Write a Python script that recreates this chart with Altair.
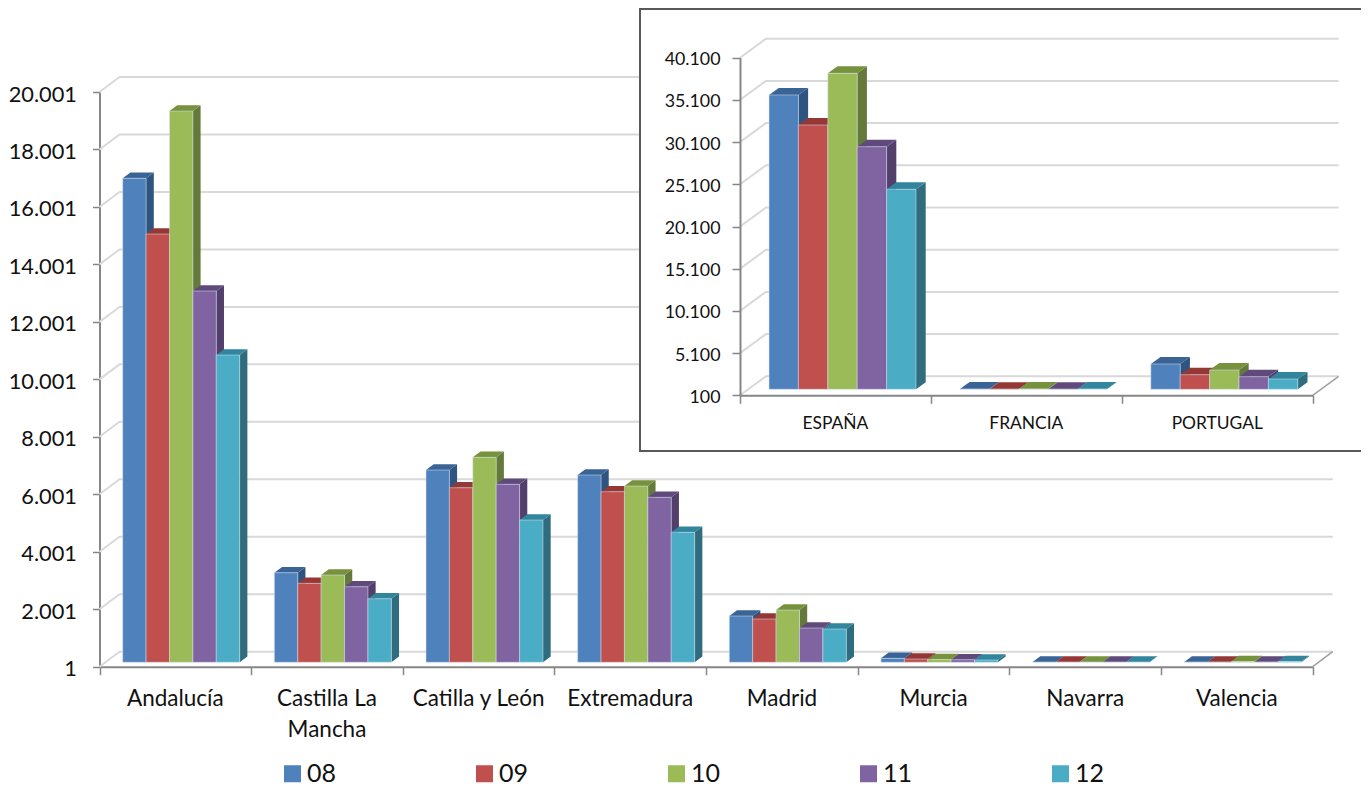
import altair as alt
import pandas as pd

series = ["08", "09", "10", "11", "12"]
front_colors = ["#4F81BD", "#C0504D", "#9BBB59", "#8064A2", "#4BACC6"]
top_colors = ["#3A6396", "#953735", "#76923C", "#604A7B", "#31859C"]
side_colors = ["#2F5480", "#7E2F2D", "#64793A", "#533F6C", "#2F6C7D"]

regions = ["Andalucía", "Castilla La\nMancha", "Catilla y León", "Extremadura",
           "Madrid", "Murcia", "Navarra", "Valencia"]
region_08 = [16844, 3118, 6692, 6518, 1611, 139, 8, 10]
region_09 = [14905, 2749, 6076, 5937, 1507, 115, 8, 12]
region_10 = [19185, 3038, 7134, 6135, 1820, 100, 8, 25]
region_11 = [12922, 2631, 6195, 5742, 1194, 90, 8, 12]
region_12 = [10695, 2213, 4952, 4524, 1159, 80, 8, 30]
region_ticks = [1, 2001, 4001, 6001, 8001, 10001, 12001, 14001, 16001, 18001, 20001]

countries = ["ESPAÑA", "FRANCIA", "PORTUGAL"]
country_08 = [34970, 130, 3098]
country_09 = [31415, 120, 1830]
country_10 = [37540, 150, 2387]
country_11 = [28844, 110, 1593]
country_12 = [23797, 130, 1320]
country_ticks = [100, 5100, 10100, 15100, 20100, 25100, 30100, 35100, 40100]

H = 778
W = 1353
FONT = "Lato"
LABEL_EXPR = "replace(format(datum.value, ','), ',', '.')"


def panel(cats, columns, ticks, xr, yr, lift, bar_off, bar_w, side_dx, side_dy,
          wall_dx, wall_dy, tick_size, label_pad, label_size, cat_size, cat_y, z, legend):
    n = len(cats)
    lo, hi = ticks[0], ticks[-1]
    xs = alt.Scale(domain=[0, n], range=xr, nice=False, zero=False)
    ys = alt.Scale(domain=[lo, hi], range=yr, nice=False, zero=False)
    no_x = lambda f: alt.X(f, type="quantitative", scale=xs, axis=None)
    no_y = lambda f: alt.Y(f, type="quantitative", scale=ys, axis=None)

    grid, floor_edge = [], []
    for t in ticks:
        grid += [dict(t=t, x=0, y=t, o=0),
                 dict(t=t, x=wall_dx, y=t + wall_dy, o=1),
                 dict(t=t, x=n + wall_dx, y=t + wall_dy, o=2)]
    floor_edge = [dict(x=n, y=lo, o=0), dict(x=n + wall_dx, y=lo + wall_dy, o=1)]

    side, top, front = [], [], []
    base = lo + lift
    for si, (s, vals) in enumerate(zip(series, columns)):
        for ci, v in enumerate(vals):
            x0 = ci + bar_off + si * bar_w
            x1 = x0 + bar_w
            y1 = v + lift
            key = f"{s}-{ci}"
            front.append(dict(s=s, x0=x0, x1=x1, y0=base, y1=y1))
            top += [dict(s=s, k=key, y=y1, x0=x0, x1=x1),
                    dict(s=s, k=key, y=y1 + side_dy, x0=x0 + side_dx, x1=x1 + side_dx)]
            side += [dict(s=s, k=key, x=x1, y0=base, y1=y1),
                     dict(s=s, k=key, x=x1 + side_dx, y0=base + side_dy, y1=y1 + side_dy)]

    def color(rng, leg=None):
        args = dict(scale=alt.Scale(domain=series, range=rng))
        args["legend"] = leg
        return alt.Color("s:N", **args)

    x_axis = alt.Axis(values=list(range(n + 1)), labels=False, title=None, grid=False,
                      orient="bottom", offset=-(H - yr[0]), tickSize=8, tickWidth=1.5,
                      tickColor="#868686", domainColor="#868686", domainWidth=2, zindex=z)
    y_axis = alt.Axis(values=ticks, labelExpr=LABEL_EXPR, title=None, grid=False,
                      orient="left", offset=-xr[0], tickSize=tick_size, tickWidth=1.5,
                      tickColor="#868686", domainColor="#868686", domainWidth=2,
                      labelPadding=label_pad, labelFont=FONT, labelFontSize=label_size,
                      labelOffset=2, labelColor="#111111", zindex=z)

    layers = [
        alt.Chart(pd.DataFrame(grid)).mark_line(color="#D9D9D9", strokeWidth=2).encode(
            x=alt.X("x", type="quantitative", scale=xs, axis=x_axis),
            y=alt.Y("y", type="quantitative", scale=ys, axis=y_axis),
            detail="t:N", order="o:Q"),
        alt.Chart(pd.DataFrame(floor_edge)).mark_line(color="#A0A0A0", strokeWidth=1.5).encode(
            x=no_x("x"), y=no_y("y"), order="o:Q"),
        alt.Chart(pd.DataFrame(side)).mark_area(orient="vertical").encode(
            x=no_x("x"), y=no_y("y0"), y2="y1", detail="k:N", color=color(side_colors)),
        alt.Chart(pd.DataFrame(top)).mark_area(orient="horizontal").encode(
            y=no_y("y"), x=no_x("x0"), x2="x1", detail="k:N", color=color(top_colors)),
        alt.Chart(pd.DataFrame(front)).mark_rect(stroke="#D6E4F2", strokeWidth=0.5).encode(
            x=no_x("x0"), x2="x1", y=no_y("y0"), y2="y1",
            color=color(front_colors, legend)),
        alt.Chart(pd.DataFrame(dict(c=[i + 0.5 for i in range(n)], t=cats))).mark_text(
            font=FONT, fontSize=cat_size, color="#111111", baseline="top", lineBreak="\n",
            lineHeight=cat_size * 1.36).encode(
            x=no_x("c"), y=alt.value(cat_y), text="t:N"),
    ]
    return layers


legend = alt.Legend(title=None, orient="none", legendX=272, legendY=753, direction="horizontal",
                    columns=5, columnPadding=135, symbolType="square", symbolSize=289,
                    symbolStrokeWidth=0, labelFont=FONT, labelFontSize=25, labelOffset=2,
                    labelColor="#111111", padding=0)

main_layers = panel(regions, [region_08, region_09, region_10, region_11, region_12], region_ticks,
                    xr=[91.5, 1304.7], yr=[658.7, 84], lift=153, bar_off=0.153, bar_w=0.1543,
                    side_dx=0.0507, side_dy=202, wall_dx=0.132, wall_dy=522,
                    tick_size=7, label_pad=16, label_size=21.8, cat_size=22.5, cat_y=680, z=0, legend=legend)

frame = alt.Chart(pd.DataFrame(dict(a=[0]))).mark_rect(
    fill="white", stroke="#595959", strokeWidth=2).encode(
    x=alt.value(632), x2=alt.value(1400), y=alt.value(1), y2=alt.value(443))

inset_layers = panel(countries, [country_08, country_09, country_10, country_11, country_12], country_ticks,
                     xr=[732, 1304.7], yr=[387.3, 49.7], lift=711, bar_off=0.152, bar_w=0.154,
                     side_dx=0.0508, side_dy=829, wall_dx=0.136, wall_dy=2251,
                     tick_size=8, label_pad=12, label_size=17.8, cat_size=17.4, cat_y=406.5, z=1, legend=None)

chart = alt.layer(*main_layers, frame, *inset_layers).resolve_scale(
    x="independent", y="independent", color="independent"
).properties(
    width=W, height=H, padding=0, autosize=alt.AutoSizeParams(type="none"), background="white"
).configure_view(stroke=None)

chart.save("out.html", embed_options={"renderer": "svg", "actions": False})
